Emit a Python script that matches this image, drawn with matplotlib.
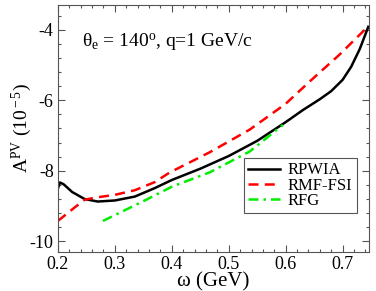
import matplotlib
matplotlib.use("Agg")
import matplotlib.pyplot as plt
from matplotlib.ticker import MultipleLocator

plt.rcParams['font.family'] = ['Liberation Serif', 'DejaVu Serif']
plt.rcParams['mathtext.fontset'] = 'custom'
plt.rcParams['mathtext.rm'] = 'Liberation Serif'
plt.rcParams['mathtext.it'] = 'Liberation Serif:italic'

# RPWIA (black solid)
rpwia_w = [0.200, 0.2035, 0.210, 0.225, 0.247, 0.270, 0.300, 0.335, 0.370, 0.400,
           0.450, 0.500, 0.550, 0.600, 0.630, 0.660, 0.680, 0.700, 0.715, 0.730, 0.745]
rpwia_a = [-8.50, -8.33, -8.38, -8.60, -8.80, -8.87, -8.84, -8.73, -8.49, -8.26,
           -7.94, -7.58, -7.15, -6.62, -6.28, -5.97, -5.74, -5.42, -5.05, -4.55, -3.92]

# RMF-FSI (red dashed)
rmf_w = [0.200, 0.230, 0.247, 0.265, 0.300, 0.335, 0.370, 0.396, 0.467, 0.537,
         0.600, 0.642, 0.695, 0.744]
rmf_a = [-9.42, -9.03, -8.82, -8.76, -8.68, -8.55, -8.32, -8.05, -7.47, -6.83,
         -6.10, -5.47, -4.70, -3.92]

# RFG (green dash-dot)
rfg_w = [0.279, 0.350, 0.400, 0.467, 0.537, 0.595]
rfg_a = [-9.42, -8.86, -8.45, -8.04, -7.45, -6.70]

fig = plt.figure(figsize=(3.76, 2.91), dpi=100)
ax = fig.add_axes([0.154, 0.134, 0.827, 0.849])

ax.plot(rpwia_w, rpwia_a, color='black', lw=1.8, label='RPWIA')
ax.plot(rmf_w, rmf_a, color='#ff0000', lw=1.8, dashes=(4, 2.5), label='RMF-FSI')
ax.plot(rfg_w, rfg_a, color='#00ee00', lw=1.8, dashes=(4, 2, 1, 2), label='RFG')

ax.set_xlim(0.2, 0.746)
ax.set_ylim(-10.3, -3.3)
ax.xaxis.set_minor_locator(MultipleLocator(0.02))
ax.yaxis.set_minor_locator(MultipleLocator(0.4))
ax.set_xticks([0.2, 0.3, 0.4, 0.5, 0.6, 0.7])
ax.set_xticklabels(['0.2', '0.3', '0.4', '0.5', '0.6', '0.7'])
ax.set_yticks([-10, -8, -6, -4])
ax.set_yticklabels(['-10', '-8', '-6', '-4'])

ax.tick_params(which='both', direction='in', top=True, right=True, color='#555555',
               labelsize=13)
ax.tick_params(which='major', length=5, width=0.8, pad=3)
ax.tick_params(which='minor', length=2.5, width=0.8)
for s in ax.spines.values():
    s.set_color('#555555')
    s.set_linewidth(0.8)

ax.set_xlabel('ω (GeV)', fontsize=15, labelpad=-1)
ax.set_ylabel(r'A$^{\rm PV}$ (10$^{\rm -5}$)', fontsize=14, labelpad=-3)

ax.text(0.077, 0.83, r'θ$_{\rm e}$ = 140$^{\rm o}$, q=1 GeV/c', transform=ax.transAxes,
        fontsize=14, ha='left', va='baseline')

leg = ax.legend(loc='lower right', bbox_to_anchor=(0.961, 0.158), fontsize=12,
                frameon=True, fancybox=False, edgecolor='#555555', framealpha=1,
                handlelength=1.9, handletextpad=0.5, labelspacing=-0.05,
                borderpad=0.25, borderaxespad=0)
leg.get_frame().set_linewidth(0.8)

fig.savefig('out.png', dpi=100)
